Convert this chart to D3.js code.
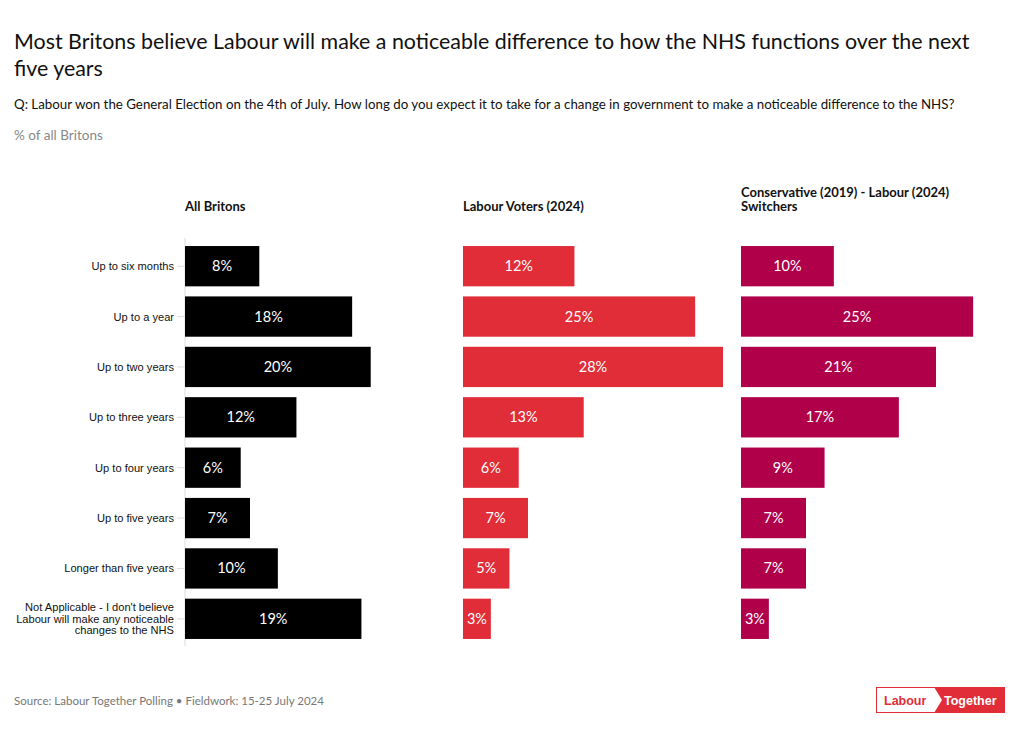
<!DOCTYPE html>
<html><head><meta charset="utf-8">
<script src="https://cdn.jsdelivr.net/npm/d3@7"></script>
<style>body{margin:0;background:#fff;} svg{display:block;font-family:Lato,"Open Sans",sans-serif;}</style>
</head><body>
<svg id="c" width="1020" height="731"></svg>
<script>
const categories = ["Up to six months","Up to a year","Up to two years","Up to three years","Up to four years","Up to five years","Longer than five years","Not Applicable - I don't believe Labour will make any noticeable changes to the NHS"];
const groups = ["All Britons","Labour Voters (2024)","Conservative (2019) - Labour (2024) Switchers"];
const allBritons = [8,18,20,12,6,7,10,19];
const labourVoters = [12,25,28,13,6,7,5,3];
const switchers = [10,25,21,17,9,7,7,3];
const seriesValues = [allBritons, labourVoters, switchers];
const colors = ["#000000","#e02d38","#b0004a"];

const svg = d3.select("#c");
svg.append("text").attr("x",14).attr("y",49).attr("font-size",21.4).attr("fill","#111")
  .text("Most Britons believe Labour will make a noticeable difference to how the NHS functions over the next");
svg.append("text").attr("x",14).attr("y",76).attr("font-size",21.4).attr("fill","#111").text("five years");
svg.append("text").attr("x",14).attr("y",109).attr("font-size",13.3).attr("fill","#111")
  .text("Q: Labour won the General Election on the 4th of July. How long do you expect it to take for a change in government to make a noticeable difference to the NHS?");
svg.append("text").attr("x",14).attr("y",140).attr("font-size",13.5).attr("fill","#888").text("% of all Britons");

const y = d3.scaleBand().domain(categories).range([241,644]).paddingInner(0.2).paddingOuter(0.1);
const x = d3.scaleLinear().domain([0,28]).range([0,260]);
const panelX = [185,463,741];

// y axis
const ax = svg.append("g").attr("transform","translate(185,0)")
  .call(d3.axisLeft(y).tickSize(8).tickPadding(3).tickFormat(()=>""));
ax.select(".domain").attr("stroke","#ddd").attr("d","M0,238V646");
ax.selectAll(".tick line").attr("stroke","#ddd");
ax.selectAll(".tick").each(function(d){
  const g = d3.select(this);
  const t = g.append("text").attr("x",-11).attr("fill","#111").attr("font-size",11.1).attr("text-anchor","end");
  if (d.startsWith("Not Applicable")) {
    const lines = ["Not Applicable - I don't believe","Labour will make any noticeable","changes to the NHS"];
    lines.forEach((l,i)=>t.append("tspan").attr("x",-11).attr("y",(i-1)*11.5+4).text(l));
  } else {
    t.attr("y",4).text(d);
  }
});

groups.forEach((gname,gi)=>{
  const g = svg.append("g").attr("transform",`translate(${panelX[gi]},0)`);
  if (gi===2) {
    g.append("text").attr("x",0).attr("y",197).attr("font-size",13).attr("font-weight","bold").attr("fill","#111").text("Conservative (2019) - Labour (2024)");
    g.append("text").attr("x",0).attr("y",211).attr("font-size",13).attr("font-weight","bold").attr("fill","#111").text("Switchers");
  } else {
    g.append("text").attr("x",0).attr("y",211).attr("font-size",13).attr("font-weight","bold").attr("fill","#111").text(gname);
  }
  const vals = seriesValues[gi];
  g.selectAll("rect").data(categories).join("rect")
    .attr("x",0).attr("y",d=>y(d)).attr("height",y.bandwidth())
    .attr("width",(d,i)=>x(vals[i])).attr("fill",colors[gi]);
  g.selectAll("text.v").data(categories).join("text").attr("class","v")
    .attr("x",(d,i)=>x(vals[i])/2).attr("y",d=>y(d)+y.bandwidth()/2+5)
    .attr("text-anchor","middle").attr("fill","#fff").attr("font-size",14.5)
    .text((d,i)=>vals[i]+"%");
});

svg.append("text").attr("x",14).attr("y",705).attr("font-size",11.5).attr("fill","#777")
  .text("Source: Labour Together Polling • Fieldwork: 15-25 July 2024");

// logo
const lg = svg.append("g").attr("transform","translate(876,687)");
lg.append("rect").attr("x",0.5).attr("y",0.5).attr("width",128).attr("height",25).attr("fill","#fff").attr("stroke","#e02d38");
lg.append("path").attr("d","M58,0 L129,0 L129,26 L58,26 L66,13 Z").attr("fill","#e02d38");
lg.append("text").attr("x",8).attr("y",17.5).attr("font-size",12.5).attr("font-weight","bold").attr("fill","#e02d38").attr("font-family","Liberation Sans, Arial").text("Labour");
lg.append("text").attr("x",68).attr("y",17.5).attr("font-size",12.5).attr("font-weight","bold").attr("fill","#fff").attr("font-family","Liberation Sans, Arial").text("Together");
</script>
</body></html>
